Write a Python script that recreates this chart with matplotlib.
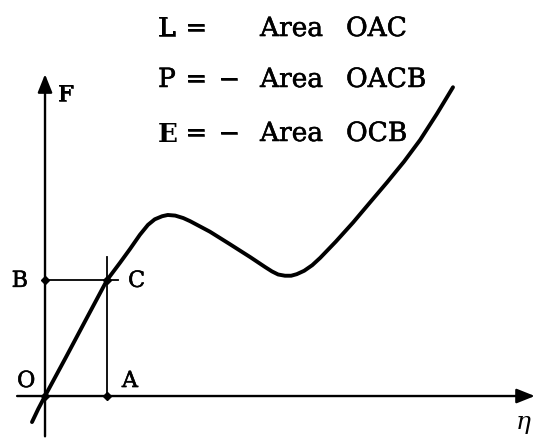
import matplotlib.pyplot as plt
import matplotlib.patheffects as pe

plt.rcParams['font.family'] = ['DejaVu Serif']
plt.rcParams['mathtext.fontset'] = 'dejavuserif'

# Force F against strain eta (arbitrary units, origin at O)
eta = [-0.21, -0.11, 0.0, 0.34, 0.68, 1.0, 1.21, 1.37, 1.53, 1.66, 1.77,
       1.89, 1.98, 2.10, 2.23, 2.34, 2.66, 2.98, 3.31, 3.55, 3.66, 3.76,
       3.87, 3.97, 4.06, 4.18, 4.31, 4.44, 4.69, 4.97, 5.24, 5.52, 5.79,
       6.05, 6.32, 6.58]
force = [-0.42, -0.21, 0.0, 0.63, 1.27, 1.87, 2.15, 2.37, 2.6, 2.76, 2.85,
         2.9, 2.92, 2.91, 2.87, 2.82, 2.65, 2.45, 2.24, 2.08, 2.01, 1.96,
         1.94, 1.94, 1.965, 2.02, 2.11, 2.23, 2.49, 2.8, 3.12, 3.45, 3.78,
         4.13, 4.55, 4.98]

# marked points O, A, B, C
eta_a = 1.0
f_c = 1.87
pts_x = [0.0, eta_a, 0.0, eta_a]
pts_y = [0.0, 0.0, f_c, f_c]

# definitions printed above the curve
lhs = ['L', 'P', 'E']
sign = ['', '\u2212', '\u2212']
areas = ['OAC', 'OACB', 'OCB']

fig = plt.figure(figsize=(5.37, 4.39), dpi=100)
ax = fig.add_axes([0, 0, 1, 1])
ax.set_xlim(-0.726, 7.935)
ax.set_ylim(-0.677, 6.403)
ax.axis('off')

ink = [pe.withStroke(linewidth=0.4, foreground='black')]

arrow = dict(arrowstyle='-|>,head_length=0.55,head_width=0.22', lw=1.7,
             color='black', shrinkA=0, shrinkB=0, mutation_scale=20)
ax.annotate('', xy=(7.9, 0), xytext=(-0.45, 0), arrowprops=arrow)
ax.annotate('', xy=(0, 5.19), xytext=(0, -0.65), arrowprops=arrow)

# construction lines for C
ax.plot([eta_a, eta_a], [0, 2.24], color='black', lw=1.3)
ax.plot([0, 1.18], [f_c, f_c], color='black', lw=1.3)

ax.plot(eta, force, color='black', lw=2.8, solid_capstyle='round',
        solid_joinstyle='round')
ax.plot(pts_x, pts_y, 'kD', ms=4.5)

lab = dict(fontsize=16, path_effects=ink)
ax.text(0.21, 4.76, 'F', **lab)
ax.text(7.58, -0.52, r'$\eta$', fontsize=18)
ax.text(-0.274, 1.76, 'B', ha='right', **lab)
ax.text(1.34, 1.76, 'C', **lab)
ax.text(-0.45, 0.145, 'O', **lab)
ax.text(1.24, 0.145, 'A', **lab)

rows = [5.806, 4.984, 4.113]
for i in range(3):
    y = rows[i]
    if lhs[i] == 'E':
        ax.text(1.823, y, lhs[i], fontsize=19, fontweight='bold')
    else:
        ax.text(1.823, y, lhs[i], fontsize=19, path_effects=ink)
    ax.text(2.258, y, '=', fontsize=19, path_effects=ink)
    ax.text(2.79, y, sign[i], fontsize=19, path_effects=ink)
    ax.text(3.468, y, 'Area', fontsize=19, path_effects=ink)
    ax.text(4.855, y, areas[i], fontsize=19, path_effects=ink)

fig.savefig('out.png', dpi=100)
